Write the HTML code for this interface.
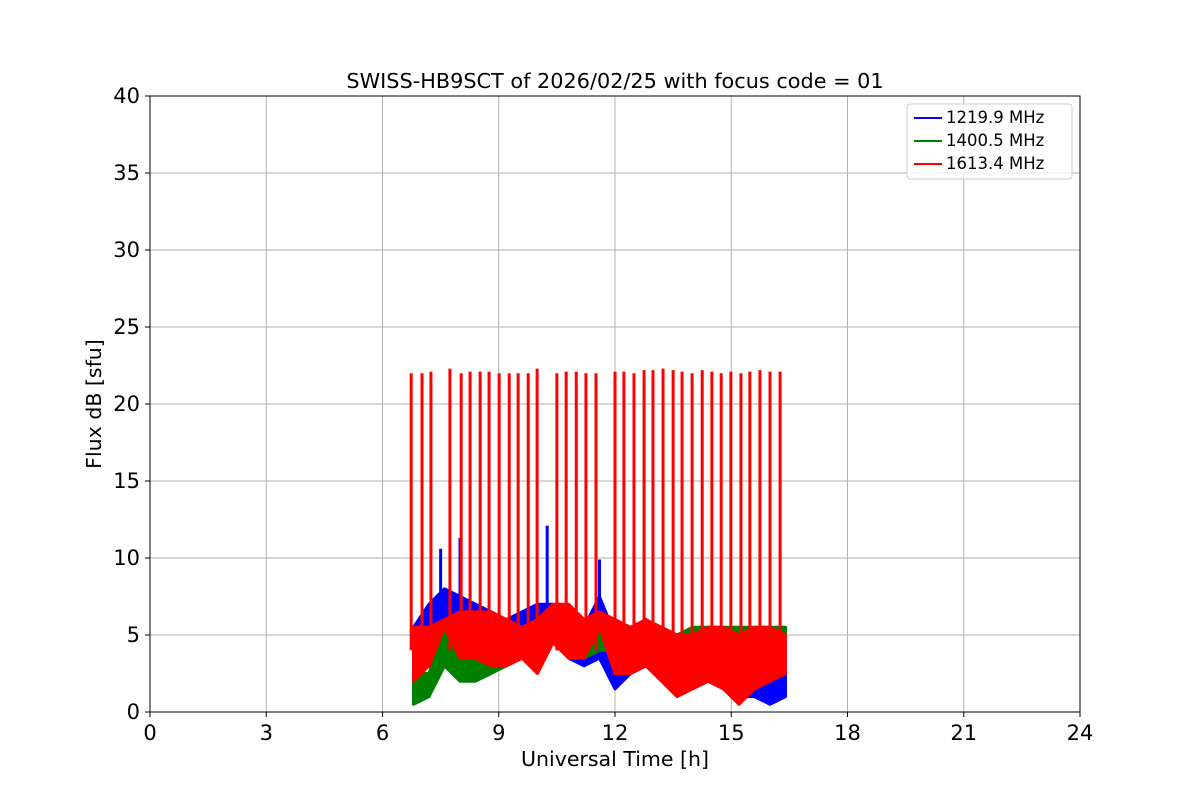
<!DOCTYPE html>
<html><head><meta charset="utf-8"><style>
body{margin:0;background:#fff;font-family:"Liberation Sans","DejaVu Sans",sans-serif}
text{font-family:"DejaVu Sans","Liberation Sans",sans-serif}
</style></head><body>
<svg id="c" width="1200" height="800">
<rect width="1200" height="800" fill="#fff"/>
<g id="grid"></g><g id="data"></g><g id="axes"></g>
</svg>
<script>
const times=[6.8,7.2,7.6,8.0,8.4,8.8,9.2,9.6,10.0,10.4,10.8,11.2,11.6,12.0,12.4,12.8,13.2,13.6,14.0,14.4,14.8,15.2,15.6,16.0,16.4];
const blueLo=[3,3.5,5,4,4,4,4,4,4,5,3.5,3,3.5,1.5,2.5,3,2.5,1.5,1.5,2,1.5,1,1,0.5,1];
const blueHi=[5.5,7,8,7.5,7,6.5,6,6.5,7,7,6,5.5,7.5,5,5,6,4.5,4.5,4.5,5,5,4.5,4,3.5,3.5];
const greenLo=[0.5,1,3,2,2,2.5,3,3.5,3,5.3,4,3.5,4,4,3.5,4,4,4,4,4,4,4,4,4,4];
const greenHi=[2.5,2.5,5.5,4,4,4.5,5,5,5,5.6,5.5,5.5,6,5.5,5,5.5,5.5,5,5.5,5.5,5.5,5.5,5.5,5.5,5.5];
const redLo=[2,3,5.5,3.5,3.5,3,3,3.5,2.5,4.5,3.5,3.5,5.5,2.5,2.5,3,2,1,1.5,2,1.5,0.5,1.5,2,2.5];
const redHi=[5.5,5.5,6,6.5,6.5,6.5,6,5.5,6,7,7,6,6.5,6,5.5,6,5.5,5,5,5.5,5.5,5,5.5,5.5,5];
const spikeTimes=[6.74,7.02,7.25,7.74,8.03,8.26,8.52,8.75,9.01,9.27,9.5,9.76,9.99,10.5,10.74,11.0,11.25,11.51,12.0,12.23,12.49,12.75,12.98,13.24,13.5,13.73,13.99,14.25,14.5,14.74,14.99,15.25,15.48,15.74,16.0,16.26];
const spikeVals=[22,22,22.1,22.3,22,22.1,22.1,22.1,22,22,22,22,22.3,22,22.1,22.1,22,22,22.1,22.1,22,22.2,22.2,22.3,22.2,22.1,22,22.2,22.1,22,22.1,22,22.1,22.2,22.1,22.1];
const blueSpikeT=[7.5,8.0,10.25,11.6];
const blueSpikeV=[10.6,11.3,12.1,9.9];
const xTicks=[0,3,6,9,12,15,18,21,24];
const yTicks=[0,5,10,15,20,25,30,35,40];
const L=150,R=1080,T=96,B=712;
const X=t=>L+(t/24)*(R-L), Y=v=>B-(v/40)*(B-T);
const NS="http://www.w3.org/2000/svg";
function mk(tag,attrs,parent,txt){const e=document.createElementNS(NS,tag);for(const k in attrs)e.setAttribute(k,attrs[k]);if(txt!==undefined)e.textContent=txt;parent.appendChild(e);return e;}
const grid=document.getElementById('grid'),data=document.getElementById('data'),axes=document.getElementById('axes');
xTicks.forEach(t=>{const l=mk('line',{x1:X(t),x2:X(t),y1:T,y2:B,stroke:'#b0b0b0','stroke-width':1},grid);


const tk=mk('line',{x1:X(t),x2:X(t),y1:B,y2:B+5,stroke:'#000'},axes);


const tx=mk('text',{x:X(t),y:B+28,'text-anchor':'middle','font-size':21},axes,String(t));

});
yTicks.forEach(v=>{const l=mk('line',{x1:L,x2:R,y1:Y(v),y2:Y(v),stroke:'#b0b0b0','stroke-width':1},grid);


const tk=mk('line',{x1:L-5,x2:L,y1:Y(v),y2:Y(v),stroke:'#000'},axes);


const tx=mk('text',{x:L-10,y:Y(v)+7,'text-anchor':'end','font-size':21},axes,String(v));

});
function band(lo,hi,col,name){
 let p=times.map((t,i)=>X(t)+','+Y(hi[i])).concat(times.map((t,i)=>X(t)+','+Y(lo[i])).reverse()).join(' ');
 const e=mk('polygon',{points:p,fill:col,stroke:col,'stroke-width':3,'stroke-linejoin':'round'},data);
 
 
}
band(blueLo,blueHi,'#0000ff','series-1219-9-mhz');
blueSpikeT.forEach((t,i)=>{const e=mk('line',{x1:X(t),x2:X(t),y1:Y(5),y2:Y(blueSpikeV[i]),stroke:'#0000ff','stroke-width':3},data);

});
band(greenLo,greenHi,'#008000','series-1400-5-mhz');
band(redLo,redHi,'#ff0000','series-1613-4-mhz');
spikeTimes.forEach((t,i)=>{const e=mk('line',{x1:X(t),x2:X(t),y1:Y(4),y2:Y(spikeVals[i]),stroke:'#ff0000','stroke-width':3},data);

});
</script>
<svg style="position:absolute;left:0;top:0" width="1200" height="800">
<rect x="150" y="96" width="930" height="616" fill="none" stroke="#000" stroke-width="1"/>
<text x="615" y="88" text-anchor="middle" font-size="20.8">SWISS-HB9SCT of 2026/02/25 with focus code = 01</text>
<text x="615" y="766" text-anchor="middle" font-size="20.5">Universal Time [h]</text>
<text x="101" y="404" text-anchor="middle" font-size="20.5" transform="rotate(-90 101 404)">Flux dB [sfu]</text>
<g>
<rect x="907" y="104" width="165" height="75" rx="3" fill="#fff" fill-opacity="0.8" stroke="#ccc"/>
<line x1="914" y1="118" x2="942" y2="118" stroke="#0000ff" stroke-width="2"/>
<text x="946" y="123" font-size="16.5">1219.9 MHz</text>
<line x1="914" y1="141" x2="942" y2="141" stroke="#008000" stroke-width="2"/>
<text x="946" y="146" font-size="16.5">1400.5 MHz</text>
<line x1="914" y1="164" x2="942" y2="164" stroke="#ff0000" stroke-width="2"/>
<text x="946" y="169" font-size="16.5">1613.4 MHz</text>
</g>
</svg>
</body></html>
